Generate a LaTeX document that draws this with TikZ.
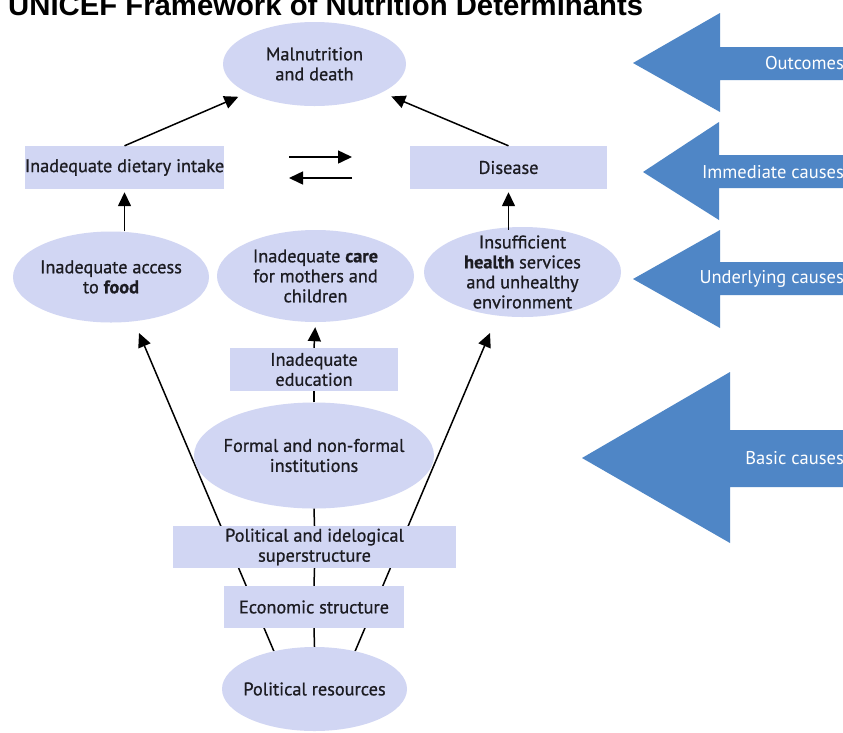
\documentclass[tikz,border=0pt]{standalone}
\usepackage{fontspec}
\setmainfont{PT Sans}[FakeBold=0.8]
\newfontfamily\titlefont{Liberation Sans}
\newfontfamily\labfont{PT Sans}
\usetikzlibrary{arrows.meta,shapes.geometric,backgrounds}
\definecolor{fillc}{RGB}{209,214,243}
\definecolor{arrowblue}{RGB}{79,134,198}
\definecolor{txtc}{RGB}{28,28,34}
\begin{document}
\begin{tikzpicture}[x=1pt,y=-1pt,
  txt/.style={font=\fontsize{18.3}{20}\selectfont, align=center, text=txtc},
  oval/.style={ellipse, fill=fillc, inner sep=0pt},
  boxn/.style={txt, rectangle, fill=fillc, inner sep=0pt},
  arr/.style={line width=1.5pt, -{Triangle[length=14pt,width=13pt]}},
  lin/.style={line width=1.5pt},
  bigarrow/.style={fill=arrowblue, draw=none},
  lab/.style={font=\labfont\fontsize{18.5}{20}\selectfont, text=white, anchor=east, inner sep=0pt}
]
\useasboundingbox (0,0) rectangle (843,732);
\begin{scope}[on background layer]
\fill[white] (0,0) rectangle (843,732);
\end{scope}

% title
\node[anchor=base west, inner sep=0pt, font=\titlefont\bfseries\fontsize{29.3}{30}\selectfont] (title) at (8,15) {UNICEF Framework of Nutrition Determinants};

% nodes
\node[oval, minimum width=183pt, minimum height=84pt, label={[txt]center:{Malnutrition\\and death}}] (mal) at (314.5,64) {};
\node[boxn, minimum width=197pt, minimum height=43pt] (diet) at (124.5,167.5) {Inadequate dietary intake};
\node[boxn, minimum width=197pt, minimum height=43pt] (dis) at (508.5,167.5) {Disease};
\node[oval, minimum width=196pt, minimum height=91pt, label={[txt]center:{Inadequate access\\to \textbf{food}}}] (acc) at (111,277) {};
\node[oval, minimum width=197pt, minimum height=92pt, label={[txt]center:{Inadequate \textbf{care}\\for mothers and\\children}}] (care) at (315.5,276) {};
\node[oval, minimum width=197pt, minimum height=90pt, label={[txt]center:{Insufficient\\\textbf{health} services\\and unhealthy\\environment}}] (hea) at (522.5,272) {};
\node[boxn, minimum width=168pt, minimum height=43pt] (edu) at (314,369.5) {Inadequate\\education};
\node[oval, minimum width=240pt, minimum height=106pt, label={[txt]center:{Formal and non-formal\\institutions}}] (form) at (314,455.5) {};
\node[boxn, minimum width=283pt, minimum height=42pt] (pol) at (314.5,547) {Political and idelogical\\superstructure};
\node[boxn, minimum width=180pt, minimum height=42pt] (eco) at (314,607) {Economic structure};
\node[oval, minimum width=185pt, minimum height=84pt, label={[txt]center:{Political resources}}] (res) at (314.5,689) {};

% free ends
\coordinate (tipA) at (139,333);
\coordinate (tipH) at (490,333);
\coordinate (r1) at (289,157);
\coordinate (r2) at (352,157);
\coordinate (l1) at (352,178);
\coordinate (l2) at (289,178);

% connectors
\draw[arr, shorten >=10pt] (diet.north) -- (mal);
\draw[arr, shorten >=10pt] (dis.north) -- (mal);
\draw[arr, shorten >=3pt] (diet.south |- acc.north) -- (diet.south);
\draw[arr, shorten >=3pt] (dis.south |- hea.north) ++(0,3) -- (dis.south);
\draw[arr, shorten >=5pt] (edu.north) -- (care.south);
\draw[lin] (form.north) -- (edu.south);
\draw[lin] (pol.north) -- (form.south);
\draw[lin] (eco.north) -- (pol.south);
\draw[lin] (res.north) -- (eco.south);
\draw[arr] (r1) -- (r2);
\draw[arr] (l1) -- (l2);
\begin{scope}[on background layer]
\draw[arr] (res.137) -- (tipA);
\draw[arr] (res.43) -- (tipH);
\end{scope}

% big blue arrows
\fill[bigarrow] (850,47) -- (720,47) -- (720,13) -- (633,63) -- (720,112) -- (720,80) -- (850,80) -- cycle;
\fill[bigarrow] (850,155) -- (719,155) -- (719,122) -- (643,172) -- (719,220) -- (719,188) -- (850,188) -- cycle;
\fill[bigarrow] (850,262) -- (720,262) -- (720,230) -- (633,279) -- (720,328) -- (720,295) -- (850,295) -- cycle;
\fill[bigarrow] (850,430) -- (730,430) -- (730,372) -- (582,458) -- (730,543) -- (730,487) -- (850,487) -- cycle;
\node[lab] (lo) at (844,63) {Outcomes};
\node[lab] (li) at (844,172) {Immediate causes};
\node[lab] (lu) at (844,279) {Underlying causes};
\node[lab] (lb) at (844,458) {Basic causes};
\end{tikzpicture}
\end{document}
